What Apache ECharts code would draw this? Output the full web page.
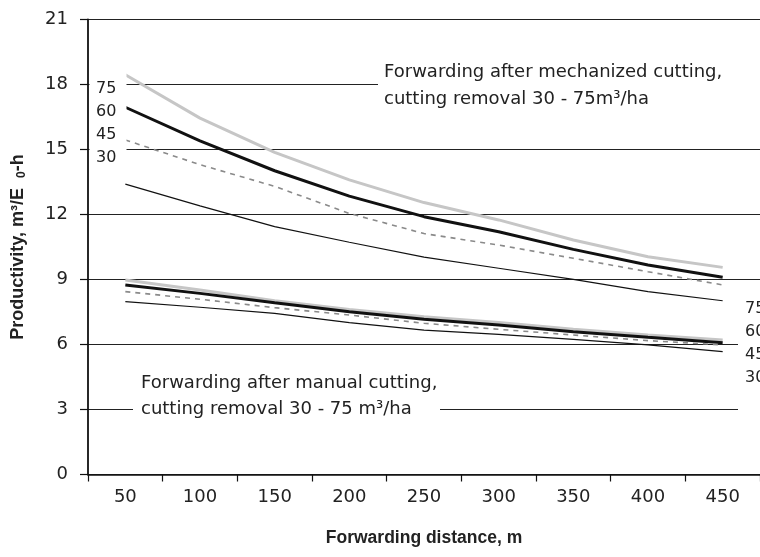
<!DOCTYPE html>
<html>
<head>
<meta charset="utf-8">
<script src="https://cdn.jsdelivr.net/npm/echarts@6/dist/echarts.min.js"></script>
<style>html,body{margin:0;padding:0;background:#fff}#c{width:760px;height:557px}</style>
</head>
<body>
<div id="c"></div>
<script>
// Categories (forwarding distance, m)
var distances = ['50','100','150','200','250','300','350','400','450'];
// Y tick settings
var yMin = 0, yMax = 21, yStep = 3;
// Forwarding after mechanized cutting (m3/ha removal: 75, 60, 45, 30)
var mech75 = [18.45, 16.45, 14.87, 13.60, 12.55, 11.75, 10.82, 10.05, 9.56];
var mech60 = [16.95, 15.40, 14.02, 12.85, 11.90, 11.20, 10.39, 9.67, 9.10];
var mech45 = [15.44, 14.30, 13.30, 12.05, 11.12, 10.59, 9.98, 9.36, 8.75];
var mech30 = [13.40, 12.40, 11.44, 10.72, 10.03, 9.52, 9.01, 8.44, 8.02];
// Forwarding after manual cutting
var man75 = [8.98, 8.52, 8.02, 7.62, 7.28, 7.01, 6.70, 6.44, 6.21];
var man60 = [8.75, 8.36, 7.93, 7.51, 7.17, 6.90, 6.59, 6.33, 6.08];
var man45 = [8.44, 8.09, 7.70, 7.36, 6.98, 6.70, 6.44, 6.18, 5.98];
var man30 = [7.98, 7.72, 7.44, 7.01, 6.66, 6.47, 6.24, 5.98, 5.67];
var removalLabels = ['75','60','45','30'];
var mechText = ['Forwarding after mechanized cutting,', 'cutting removal 30 - 75m\u00b3/ha'];
var manText = ['Forwarding after manual cutting,', 'cutting removal 30 - 75 m\u00b3/ha'];

var FONT = 'DejaVu Sans';
var styles = {
  '75': {color:'#c6c6c6', width:3, type:'solid'},
  '60': {color:'#111111', width:3, type:'solid'},
  '45': {color:'#8a8a8a', width:1.6, type:[5,5]},
  '30': {color:'#111111', width:1.2, type:'solid'}
};
function mk(name, data, key){
  var s = styles[key];
  return {name:name, type:'line', data:data, symbol:'none', silent:true,
    lineStyle:{color:s.color, width:s.width, type:s.type}, z:3};
}
var chart = echarts.init(document.getElementById('c'), null, {renderer:'canvas'});
var option = {
  animation:false,
  backgroundColor:'#fff',
  grid:{left:88, top:19.5, width:675, height:455},
  xAxis:{type:'category', data:distances, boundaryGap:true,
    axisLine:{lineStyle:{color:'#111', width:1.5}},
    axisTick:{show:true, length:7, lineStyle:{color:'#111', width:1.2}},
    axisLabel:{color:'#222', fontFamily:FONT, fontSize:18, margin:14},
    name:'Forwarding distance, m', nameLocation:'middle', nameGap:55,
    nameTextStyle:{color:'#222', fontFamily:'Liberation Sans', fontWeight:'bold', fontSize:17.5}
  },
  yAxis:{type:'value', min:yMin, max:yMax, interval:yStep,
    axisLine:{show:true, lineStyle:{color:'#111', width:1.8}},
    axisTick:{show:true, length:8, lineStyle:{color:'#111', width:1.2}},
    axisLabel:{color:'#222', fontFamily:FONT, fontSize:18, margin:20},
    splitLine:{show:true, lineStyle:{color:'#222', width:1}},
    name:'Productivity, m\u00b3/E  {sub|0}-h', nameLocation:'middle', nameGap:60, nameRotate:90,
    nameTextStyle:{color:'#222', fontFamily:'Liberation Sans', fontWeight:'bold', fontSize:18,
      rich:{sub:{fontFamily:'Liberation Sans', fontWeight:'bold', fontSize:12, color:'#222', verticalAlign:'bottom', padding:[7,0,0,0]}}}
  },
  series:[
    mk('mech75', mech75, '75'), mk('mech60', mech60, '60'), mk('mech45', mech45, '45'), mk('mech30', mech30, '30'),
    mk('man75', man75, '75'), mk('man60', man60, '60'), mk('man45', man45, '45'), mk('man30', man30, '30')
  ],
  graphic:[
    {type:'rect', shape:{x:89.5, y:72, width:37, height:95}, style:{fill:'#fff'}, z:10},
    {type:'rect', shape:{x:378, y:58, width:390, height:50}, style:{fill:'#fff'}, z:10},
    {type:'rect', shape:{x:133, y:368, width:307, height:56}, style:{fill:'#fff'}, z:10},
    {type:'rect', shape:{x:738, y:296, width:30, height:125}, style:{fill:'#fff'}, z:10}
  ]
};
var txt = function(x, y, s, align){
  return {type:'text', x:x, y:y, z:11, style:{text:s, fill:'#222', font:'16px "' + FONT + '"', textAlign:align||'left', textVerticalAlign:'middle'}};
};
removalLabels.forEach(function(l, i){ option.graphic.push(txt(96, 89 + i*23, l)); });
removalLabels.forEach(function(l, i){ option.graphic.push(txt(745, 309 + i*23, l)); });
option.graphic.push({type:'text', x:384, y:72, z:11, style:{text:mechText[0], fill:'#222', font:'18px "'+FONT+'"', textVerticalAlign:'middle'}});
option.graphic.push({type:'text', x:384, y:99, z:11, style:{text:mechText[1], fill:'#222', font:'18px "'+FONT+'"', textVerticalAlign:'middle'}});
option.graphic.push({type:'text', x:141, y:383, z:11, style:{text:manText[0], fill:'#222', font:'18px "'+FONT+'"', textVerticalAlign:'middle'}});
option.graphic.push({type:'text', x:141, y:409, z:11, style:{text:manText[1], fill:'#222', font:'18px "'+FONT+'"', textVerticalAlign:'middle'}});
chart.setOption(option);
</script>
</body>
</html>
